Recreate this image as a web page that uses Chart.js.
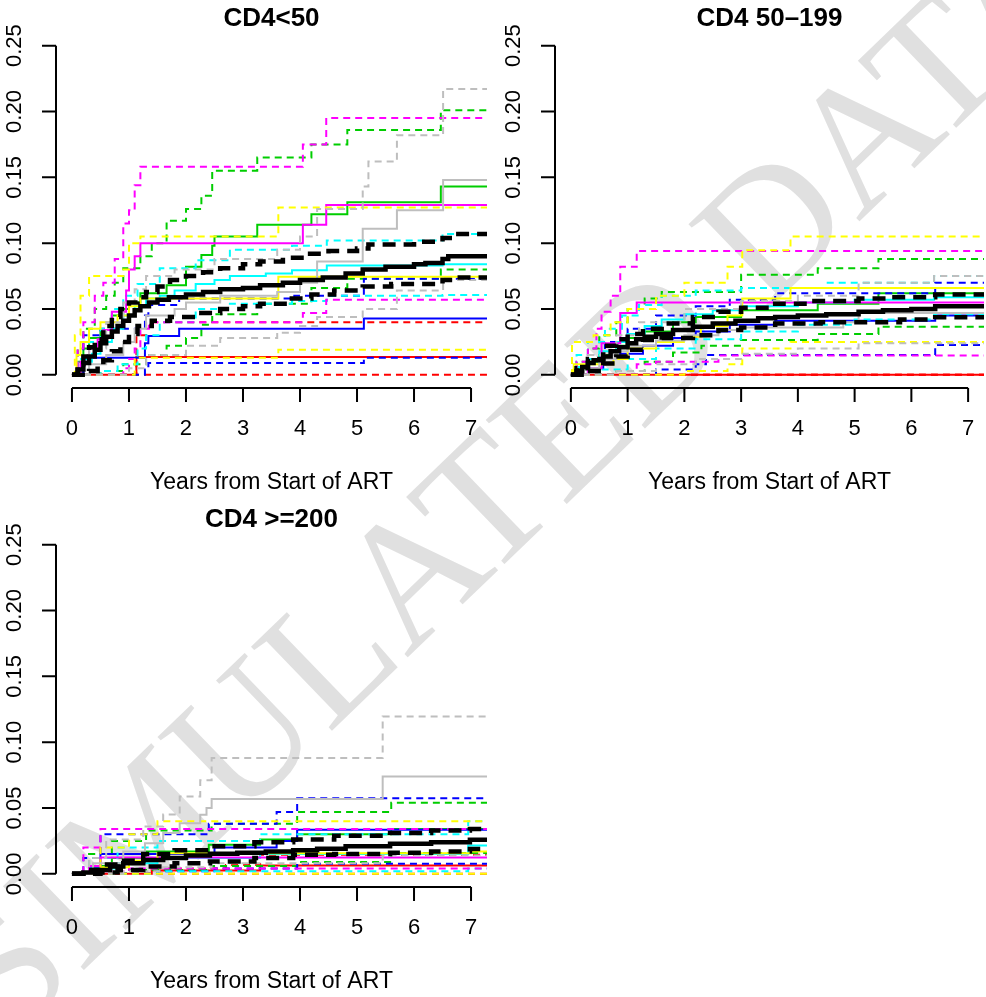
<!DOCTYPE html>
<html>
<head>
<meta charset="utf-8">
<script src="https://cdn.jsdelivr.net/npm/chart.js@4.4.1/dist/chart.umd.min.js"></script>
<style>
  body { margin: 0; background: #fff; }
  #page { position: relative; width: 986px; height: 997px; overflow: hidden; }
  #mark { position: absolute; left: 0; top: 0; }
  .panel { position: absolute; }
</style>
</head>
<body>
<div id="page">
  <canvas id="mark" width="986" height="997"></canvas>
  <canvas class="panel" id="p1" width="493" height="499" style="left:0;top:0"></canvas>
  <canvas class="panel" id="p2" width="493" height="499" style="left:493px;top:0"></canvas>
  <canvas class="panel" id="p3" width="493" height="499" style="left:0;top:499px"></canvas>
</div>
<script>
// Axis ticks
const xTicks = [0, 1, 2, 3, 4, 5, 6, 7];
const yTicks = [0, 0.05, 0.10, 0.15, 0.20, 0.25];
const yTickLabels = ['0.00', '0.05', '0.10', '0.15', '0.20', '0.25'];
const panelTitles = ['CD4<50', 'CD4 50\u2013199', 'CD4 >=200'];
const xAxisTitle = 'Years from Start of ART';
const watermark = 'SIMULATED DATA';
const lastTime = 7.45;

// Step curves: [time, cumulative incidence] at each jump
// --- CD4<50 ---
const p1BlackEst = [[0,0],[0.1,0.004],[0.2,0.009],[0.3,0.014],[0.4,0.019],[0.5,0.024],[0.6,0.029],[0.7,0.033],[0.8,0.037],[0.9,0.041],[1.0,0.045],[1.1,0.049],[1.2,0.052],[1.35,0.055],[1.5,0.057],[1.7,0.059],[2.0,0.061],[2.3,0.063],[2.6,0.065],[3.0,0.066],[3.3,0.068],[3.7,0.070],[4.0,0.072],[4.4,0.074],[4.8,0.077],[5.1,0.080],[5.5,0.082],[6.0,0.084],[6.2,0.085],[6.5,0.088],[6.6,0.090]];
const p1BlackHi = [[0,0],[0.1,0.008],[0.2,0.014],[0.3,0.021],[0.4,0.027],[0.55,0.037],[0.7,0.044],[0.85,0.050],[1.0,0.055],[1.15,0.059],[1.3,0.063],[1.5,0.067],[1.72,0.072],[2.0,0.075],[2.3,0.078],[2.6,0.081],[3.0,0.084],[3.3,0.086],[3.7,0.089],[4.1,0.092],[4.5,0.094],[5.0,0.096],[5.2,0.099],[6.0,0.101],[6.5,0.104],[6.7,0.107]];
const p1BlackLo = [[0,0],[0.3,0.003],[0.45,0.007],[0.55,0.011],[0.7,0.018],[0.85,0.025],[1.0,0.031],[1.15,0.037],[1.4,0.041],[1.72,0.044],[2.2,0.047],[2.6,0.050],[3.0,0.052],[3.3,0.054],[3.8,0.058],[4.2,0.061],[4.6,0.064],[5.1,0.067],[5.6,0.069],[6.5,0.072],[6.7,0.074]];
const p1RedEst = [[0,0],[1.13,0.0136]];
const p1RedHi = [[0,0],[1.13,0.030],[1.3,0.040]];
const p1RedLo = [[0,0]];
const p1GreenEst = [[0,0],[0.1,0.010],[0.2,0.020],[0.3,0.028],[0.5,0.034],[0.7,0.045],[0.9,0.050],[1.0,0.055],[1.2,0.062],[1.66,0.068],[2.0,0.082],[2.27,0.091],[2.46,0.098],[2.5,0.105],[3.25,0.114],[4.2,0.122],[4.83,0.131],[6.47,0.143]];
const p1GreenHi = [[0,0],[0.1,0.020],[0.2,0.035],[0.4,0.050],[0.6,0.060],[0.75,0.070],[0.9,0.081],[1.2,0.090],[1.4,0.100],[1.66,0.117],[2.0,0.126],[2.27,0.136],[2.46,0.155],[3.25,0.165],[4.2,0.175],[4.83,0.186],[6.47,0.201]];
const p1GreenLo = [[0,0],[0.5,0.003],[0.9,0.008],[1.3,0.015],[1.66,0.022],[2.0,0.028],[2.27,0.038],[2.46,0.046],[3.25,0.054],[4.2,0.066],[4.83,0.073],[6.47,0.080]];
const p1BlueEst = [[0,0],[0.2,0.013],[1.28,0.024],[1.34,0.0295],[1.88,0.035],[5.12,0.0427]];
const p1BlueHi = [[0,0],[0.2,0.030],[0.5,0.035],[1.28,0.045],[1.34,0.053],[1.88,0.058],[3.9,0.060],[5.12,0.073]];
const p1BlueLo = [[0,0],[1.28,0.004],[1.34,0.009],[5.12,0.013]];
const p1CyanEst = [[0,0],[0.1,0.005],[0.2,0.010],[0.35,0.016],[0.5,0.025],[0.7,0.035],[0.9,0.045],[1.1,0.052],[1.3,0.058],[1.54,0.060],[1.8,0.064],[2.17,0.069],[2.5,0.072],[2.77,0.075],[3.4,0.077],[3.86,0.0795],[4.47,0.083],[6.5,0.084]];
const p1CyanHi = [[0,0],[0.1,0.012],[0.3,0.025],[0.5,0.035],[0.7,0.050],[0.9,0.060],[1.15,0.069],[1.54,0.081],[2.17,0.087],[2.77,0.095],[3.86,0.098],[4.47,0.102],[6.5,0.107]];
const p1CyanLo = [[0,0],[0.5,0.003],[0.8,0.008],[1.15,0.020],[1.3,0.030],[1.54,0.040],[2.17,0.050],[2.77,0.054],[3.86,0.056],[4.47,0.060],[6.5,0.0606]];
const p1MagentaEst = [[0,0],[0.15,0.010],[0.3,0.020],[0.45,0.027],[0.55,0.034],[0.7,0.048],[0.95,0.064],[1.0,0.080],[1.1,0.090],[1.2,0.100],[4.05,0.114],[4.46,0.129]];
const p1MagentaHi = [[0,0],[0.1,0.020],[0.2,0.040],[0.4,0.060],[0.55,0.070],[0.75,0.088],[0.9,0.115],[1.0,0.125],[1.1,0.144],[1.2,0.158],[4.05,0.175],[4.46,0.195]];
const p1MagentaLo = [[0,0],[0.9,0.005],[1.0,0.012],[1.1,0.020],[1.2,0.035],[1.35,0.040],[4.05,0.047],[4.46,0.057]];
const p1YellowEst = [[0,0],[0.08,0.015],[0.15,0.025],[0.3,0.035],[0.5,0.040],[0.8,0.045],[1.0,0.052],[1.2,0.058],[3.62,0.0745]];
const p1YellowHi = [[0,0],[0.05,0.030],[0.15,0.060],[0.3,0.075],[0.9,0.080],[1.0,0.100],[1.2,0.105],[3.62,0.127]];
const p1YellowLo = [[0,0],[1.1,0.013],[3.62,0.019]];
const p1GrayEst = [[0,0],[0.3,0.008],[0.6,0.015],[0.9,0.025],[1.1,0.035],[1.3,0.045],[1.8,0.050],[2.0,0.055],[2.6,0.060],[3.6,0.063],[4.0,0.070],[4.3,0.086],[5.1,0.111],[5.7,0.125],[6.51,0.148]];
const p1GrayHi = [[0,0],[0.3,0.020],[0.6,0.040],[0.9,0.055],[1.1,0.065],[1.3,0.075],[1.8,0.080],[2.5,0.088],[3.6,0.095],[4.0,0.105],[4.3,0.126],[5.1,0.143],[5.2,0.162],[5.7,0.182],[6.51,0.217]];
const p1GrayLo = [[0,0],[1.0,0.005],[1.3,0.015],[2.0,0.022],[2.6,0.028],[3.6,0.032],[4.0,0.037],[4.3,0.044],[5.1,0.050],[5.7,0.064],[6.51,0.072]];

// --- CD4 50-199 ---
const p2BlackEst = [[0,0],[0.1,0.003],[0.2,0.006],[0.3,0.009],[0.4,0.011],[0.57,0.014],[0.7,0.018],[0.85,0.021],[1.0,0.024],[1.15,0.027],[1.3,0.029],[1.5,0.031],[1.8,0.034],[2.15,0.0366],[2.5,0.039],[2.9,0.041],[3.3,0.043],[3.6,0.044],[4.0,0.045],[4.5,0.046],[5.07,0.048],[5.5,0.049],[6.0,0.050],[6.42,0.052]];
const p2BlackHi = [[0,0],[0.1,0.005],[0.3,0.012],[0.57,0.022],[0.8,0.027],[1.0,0.031],[1.27,0.035],[1.6,0.039],[2.15,0.044],[2.6,0.048],[3.0,0.051],[3.6,0.054],[4.2,0.056],[5.07,0.058],[5.6,0.059],[6.42,0.061]];
const p2BlackLo = [[0,0],[0.3,0.003],[0.57,0.0086],[0.8,0.014],[1.0,0.019],[1.27,0.0265],[1.6,0.028],[2.15,0.030],[2.6,0.034],[3.0,0.036],[3.6,0.039],[4.4,0.040],[5.8,0.042],[6.42,0.0437]];
const p2RedEst = [[0,0]];
const p2RedHi = [[0,0]];
const p2RedLo = [[0,0]];
const p2GreenEst = [[0,0],[0.1,0.005],[0.3,0.010],[0.5,0.015],[0.8,0.022],[1.0,0.028],[1.3,0.033],[1.8,0.040],[2.2,0.044],[3.0,0.049],[4.35,0.054],[5.42,0.062]];
const p2GreenHi = [[0,0],[0.1,0.010],[0.3,0.020],[0.5,0.030],[0.8,0.040],[1.0,0.050],[1.3,0.058],[1.6,0.063],[3.0,0.076],[4.35,0.081],[5.42,0.088]];
const p2GreenLo = [[0,0],[0.8,0.003],[1.3,0.010],[1.8,0.017],[2.3,0.022],[3.0,0.0265],[4.35,0.031],[5.42,0.0366]];
const p2BlueEst = [[0,0],[0.3,0.005],[0.57,0.012],[0.87,0.016],[1.27,0.022],[1.8,0.028],[2.2,0.033],[2.8,0.038],[3.6,0.041],[6.42,0.045]];
const p2BlueHi = [[0,0],[0.3,0.015],[0.6,0.025],[1.0,0.035],[1.5,0.045],[2.2,0.052],[2.8,0.057],[3.6,0.062],[6.42,0.070]];
const p2BlueLo = [[0,0],[1.5,0.004],[2.2,0.008],[2.38,0.015],[6.42,0.0227]];
const p2CyanEst = [[0,0],[0.1,0.006],[0.3,0.012],[0.5,0.018],[0.8,0.025],[1.0,0.031],[1.3,0.037],[1.6,0.042],[2.0,0.046],[2.5,0.049],[3.0,0.052],[4.0,0.055],[5.0,0.057],[6.4,0.059]];
const p2CyanHi = [[0,0],[0.1,0.015],[0.3,0.025],[0.6,0.035],[0.9,0.045],[1.2,0.053],[1.6,0.060],[2.2,0.064],[3.0,0.066],[4.5,0.070],[6.4,0.075]];
const p2CyanLo = [[0,0],[0.5,0.004],[1.0,0.012],[1.5,0.020],[2.2,0.027],[3.0,0.033],[4.0,0.038],[5.0,0.042],[6.4,0.046]];
const p2MagentaEst = [[0,0],[0.3,0.005],[0.54,0.024],[0.87,0.047],[1.16,0.055]];
const p2MagentaHi = [[0,0],[0.1,0.010],[0.3,0.020],[0.45,0.035],[0.54,0.048],[0.7,0.060],[0.87,0.082],[1.16,0.094]];
const p2MagentaLo = [[0,0],[1.16,0.008],[1.5,0.010],[2.6,0.0146]];
const p2YellowEst = [[0,0],[0.05,0.008],[0.75,0.012],[1.0,0.020],[1.5,0.025],[1.99,0.029],[2.29,0.037],[2.76,0.045],[3.02,0.058],[3.87,0.066]];
const p2YellowHi = [[0,0],[0.02,0.025],[0.4,0.030],[0.7,0.040],[1.0,0.050],[1.5,0.060],[2.0,0.070],[2.76,0.082],[3.02,0.0947],[3.87,0.105]];
const p2YellowLo = [[0,0],[2.0,0.003],[2.76,0.008],[3.02,0.020],[3.87,0.025]];
const p2GrayEst = [[0,0],[0.2,0.005],[0.5,0.012],[0.8,0.018],[1.0,0.022],[1.5,0.026],[2.0,0.030],[2.6,0.034],[3.0,0.036],[4.8,0.040],[5.07,0.047]];
const p2GrayHi = [[0,0],[0.3,0.015],[0.8,0.030],[1.2,0.040],[2.0,0.050],[3.0,0.056],[4.0,0.060],[5.07,0.070],[6.4,0.075]];
const p2GrayLo = [[0,0],[0.8,0.003],[1.5,0.008],[2.2,0.012],[3.0,0.016],[4.0,0.020],[5.07,0.024]];

// --- CD4 >=200 ---
const p3BlackEst = [[0,0],[0.2,0.001],[0.4,0.003],[0.67,0.0056],[0.9,0.008],[1.25,0.0106],[1.6,0.012],[2.0,0.014],[2.42,0.0152],[2.9,0.016],[3.4,0.017],[3.88,0.018],[4.3,0.019],[4.8,0.021],[5.58,0.0228],[6.3,0.024],[6.98,0.0258]];
const p3BlackHi = [[0,0],[0.2,0.003],[0.5,0.007],[0.8,0.010],[1.25,0.015],[1.8,0.018],[2.42,0.021],[3.2,0.024],[3.88,0.026],[4.6,0.029],[5.58,0.031],[6.3,0.033],[6.98,0.034]];
const p3BlackLo = [[0,0],[0.5,0.001],[0.8,0.003],[1.25,0.0056],[1.8,0.008],[2.42,0.0093],[3.2,0.012],[3.88,0.0144],[4.6,0.015],[5.58,0.016],[6.3,0.017],[6.98,0.0188]];
const p3RedEst = [[0,0],[1.4,0.0025],[3.3,0.0063]];
const p3RedHi = [[0,0],[1.4,0.004],[2.7,0.0067],[3.3,0.0144]];
const p3RedLo = [[0,0]];
const p3GreenEst = [[0,0],[0.3,0.006],[0.7,0.012],[1.3,0.017],[2.4,0.022],[3.3,0.026],[3.95,0.030],[5.6,0.034]];
const p3GreenHi = [[0,0],[0.3,0.015],[0.7,0.025],[1.3,0.033],[2.45,0.038],[3.95,0.047],[5.6,0.054]];
const p3GreenLo = [[0,0],[1.0,0.003],[2.45,0.006],[3.95,0.009],[5.6,0.0158]];
const p3BlueEst = [[0,0],[0.3,0.005],[0.5,0.015],[2.5,0.020],[3.59,0.025],[3.95,0.0334]];
const p3BlueHi = [[0,0],[0.2,0.012],[0.5,0.030],[2.4,0.038],[3.59,0.047],[3.95,0.0575]];
const p3BlueLo = [[0,0],[1.5,0.002],[2.5,0.004],[3.95,0.0076]];
const p3CyanEst = [[0,0],[0.3,0.004],[0.8,0.008],[1.5,0.012],[3.3,0.015],[6.95,0.0215]];
const p3CyanHi = [[0,0],[0.3,0.012],[0.8,0.020],[1.5,0.025],[3.3,0.030],[6.95,0.040]];
const p3CyanLo = [[0,0],[1.5,0.002],[6.95,0.004]];
const p3MagentaEst = [[0,0],[0.3,0.006],[0.5,0.0124]];
const p3MagentaHi = [[0,0],[0.2,0.020],[0.5,0.034]];
const p3MagentaLo = [[0,0],[0.5,0.002],[1.0,0.004]];
const p3YellowEst = [[0,0],[0.5,0.005],[1.0,0.010],[1.5,0.0157],[7.0,0.017]];
const p3YellowHi = [[0,0],[0.5,0.020],[1.0,0.030],[1.5,0.040]];
const p3YellowLo = [[0,0]];
const p3GrayEst = [[0,0],[0.37,0.008],[0.9,0.017],[1.28,0.0233],[1.6,0.031],[1.89,0.0385],[2.25,0.0448],[2.36,0.050],[2.45,0.0568],[5.45,0.074]];
const p3GrayHi = [[0,0],[0.3,0.012],[0.6,0.026],[1.25,0.036],[1.6,0.045],[1.89,0.0588],[2.25,0.071],[2.45,0.0879],[5.45,0.1195]];
const p3GrayLo = [[0,0],[0.9,0.002],[1.6,0.005],[2.45,0.008],[5.45,0.014]];

// Line colours (R palette)
const palette = {
  black: '#000000', red: '#ff0000', green: '#00cd00', blue: '#0000ff',
  cyan: '#00ffff', magenta: '#ff00ff', yellow: '#ffff00', gray: '#bebebe'
};

const FONT = '"Liberation Sans", Arial, Helvetica, sans-serif';

// Turn a jump list into Chart.js points, carried on past the right edge
const toPoints = (steps) => {
  const pts = steps.map(([x, y]) => ({ x, y }));
  pts.push({ x: lastTime, y: steps[steps.length - 1][1] });
  return pts;
};

const line = (steps, color, dashed, thick) => ({
  data: toPoints(steps),
  borderColor: color,
  borderWidth: thick ? 4.5 : 2,
  borderDash: dashed ? (thick ? [13, 8] : [7, 5]) : [],
  borderCapStyle: 'butt',
  borderJoinStyle: 'miter',
  stepped: true,
  pointRadius: 0,
  tension: 0,
  fill: false
});

// Black on top (first dataset is drawn last), then colours
const buildSets = (g) => [
  line(g.blackEst, palette.black, false, true),
  line(g.blackHi, palette.black, true, true),
  line(g.blackLo, palette.black, true, true),
  ...['gray', 'yellow', 'magenta', 'cyan', 'blue', 'green', 'red'].flatMap(c => [
    line(g[c + 'Est'], palette[c], false, false),
    line(g[c + 'Hi'], palette[c], true, false),
    line(g[c + 'Lo'], palette[c], true, false)
  ])
];

// R-style axes: lines only between first and last tick, set off from the data
const rAxes = {
  id: 'rAxes',
  afterDraw(chart, args, opts) {
    const { ctx, chartArea: a, scales: { x, y } } = chart;
    ctx.save();
    ctx.strokeStyle = '#000';
    ctx.fillStyle = '#000';
    ctx.lineWidth = 2;
    ctx.beginPath();
    ctx.moveTo(x.getPixelForValue(xTicks[0]), a.bottom);
    ctx.lineTo(x.getPixelForValue(xTicks[xTicks.length - 1]), a.bottom);
    xTicks.forEach(t => {
      const px = x.getPixelForValue(t);
      ctx.moveTo(px, a.bottom);
      ctx.lineTo(px, a.bottom + 14);
    });
    ctx.moveTo(a.left, y.getPixelForValue(yTicks[0]));
    ctx.lineTo(a.left, y.getPixelForValue(yTicks[yTicks.length - 1]));
    yTicks.forEach(t => {
      const py = y.getPixelForValue(t);
      ctx.moveTo(a.left, py);
      ctx.lineTo(a.left - 14, py);
    });
    ctx.stroke();

    ctx.font = '22px ' + FONT;
    ctx.textAlign = 'center';
    ctx.textBaseline = 'middle';
    xTicks.forEach(t => ctx.fillText(String(t), x.getPixelForValue(t), a.bottom + 41));
    yTicks.forEach((t, i) => {
      ctx.save();
      ctx.translate(a.left - 41, y.getPixelForValue(t));
      ctx.rotate(-Math.PI / 2);
      ctx.fillText(yTickLabels[i], 0, 0);
      ctx.restore();
    });

    const cx = (a.left + a.right) / 2;
    ctx.font = '23px ' + FONT;
    ctx.fillText(xAxisTitle, cx, a.bottom + 95);
    ctx.font = 'bold 26px ' + FONT;
    ctx.fillText(opts.title, cx, opts.titleY);
    ctx.restore();
  }
};

const makePanel = (id, title, titleY, pad, groups) => new Chart(document.getElementById(id), {
  type: 'line',
  data: { datasets: buildSets(groups) },
  options: {
    responsive: false,
    animation: false,
    devicePixelRatio: 1,
    layout: { padding: pad },
    scales: {
      x: { type: 'linear', min: -0.28, max: 7.28, display: false },
      y: { type: 'linear', min: -0.01, max: 0.26, display: false }
    },
    plugins: {
      legend: { display: false },
      tooltip: { enabled: false },
      rAxes: { title, titleY }
    }
  },
  plugins: [rAxes]
});

makePanel('p1', panelTitles[0], 19, { left: 56, right: 6, top: 32.5, bottom: 111 }, {
  blackEst: p1BlackEst, blackHi: p1BlackHi, blackLo: p1BlackLo,
  redEst: p1RedEst, redHi: p1RedHi, redLo: p1RedLo,
  greenEst: p1GreenEst, greenHi: p1GreenHi, greenLo: p1GreenLo,
  blueEst: p1BlueEst, blueHi: p1BlueHi, blueLo: p1BlueLo,
  cyanEst: p1CyanEst, cyanHi: p1CyanHi, cyanLo: p1CyanLo,
  magentaEst: p1MagentaEst, magentaHi: p1MagentaHi, magentaLo: p1MagentaLo,
  yellowEst: p1YellowEst, yellowHi: p1YellowHi, yellowLo: p1YellowLo,
  grayEst: p1GrayEst, grayHi: p1GrayHi, grayLo: p1GrayLo
});

makePanel('p2', panelTitles[1], 19, { left: 62, right: 2, top: 32.5, bottom: 111 }, {
  blackEst: p2BlackEst, blackHi: p2BlackHi, blackLo: p2BlackLo,
  redEst: p2RedEst, redHi: p2RedHi, redLo: p2RedLo,
  greenEst: p2GreenEst, greenHi: p2GreenHi, greenLo: p2GreenLo,
  blueEst: p2BlueEst, blueHi: p2BlueHi, blueLo: p2BlueLo,
  cyanEst: p2CyanEst, cyanHi: p2CyanHi, cyanLo: p2CyanLo,
  magentaEst: p2MagentaEst, magentaHi: p2MagentaHi, magentaLo: p2MagentaLo,
  yellowEst: p2YellowEst, yellowHi: p2YellowHi, yellowLo: p2YellowLo,
  grayEst: p2GrayEst, grayHi: p2GrayHi, grayLo: p2GrayLo
});

makePanel('p3', panelTitles[2], 21, { left: 56, right: 6, top: 32.5, bottom: 111 }, {
  blackEst: p3BlackEst, blackHi: p3BlackHi, blackLo: p3BlackLo,
  redEst: p3RedEst, redHi: p3RedHi, redLo: p3RedLo,
  greenEst: p3GreenEst, greenHi: p3GreenHi, greenLo: p3GreenLo,
  blueEst: p3BlueEst, blueHi: p3BlueHi, blueLo: p3BlueLo,
  cyanEst: p3CyanEst, cyanHi: p3CyanHi, cyanLo: p3CyanLo,
  magentaEst: p3MagentaEst, magentaHi: p3MagentaHi, magentaLo: p3MagentaLo,
  yellowEst: p3YellowEst, yellowHi: p3YellowHi, yellowLo: p3YellowLo,
  grayEst: p3GrayEst, grayHi: p3GrayHi, grayLo: p3GrayLo
});

// Diagonal watermark behind the panels
const mctx = document.getElementById('mark').getContext('2d');
mctx.save();
mctx.translate(520, 484);
mctx.rotate(-44 * Math.PI / 180);
mctx.font = '178px "Liberation Serif", "Times New Roman", serif';
mctx.fillStyle = '#e0e0e0';
mctx.textAlign = 'center';
mctx.textBaseline = 'middle';
mctx.fillText(watermark, 0, 0);
mctx.restore();
</script>
</body>
</html>
